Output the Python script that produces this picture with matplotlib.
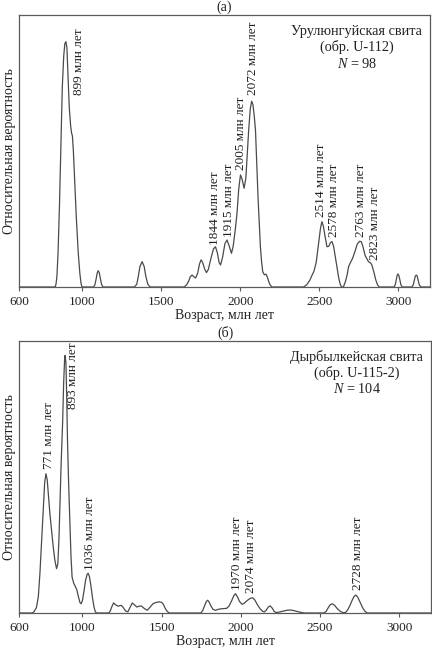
import matplotlib
matplotlib.use("Agg")
import matplotlib.pyplot as plt

plt.rcParams['font.family'] = ['Liberation Serif', 'DejaVu Serif']
plt.rcParams['mathtext.fontset'] = 'custom'
plt.rcParams['mathtext.rm'] = 'Liberation Serif'
plt.rcParams['mathtext.it'] = 'Liberation Serif:italic'

# ---- data: panel (a) ----
top_age = [600, 828, 834, 840, 847, 856, 864, 874, 883, 890, 897, 903, 910, 918, 927, 933, 938, 944, 954, 963, 975, 985, 992, 998,
           1072, 1080, 1088, 1095, 1101, 1108, 1115, 1123, 1131,
           1330, 1345, 1355, 1365, 1379, 1392, 1402, 1415, 1430,
           1645, 1660, 1672, 1684, 1695, 1706, 1717, 1730, 1742, 1752, 1762, 1775, 1786, 1798, 1812, 1830, 1843, 1855, 1866, 1875,
           1888, 1903, 1916, 1930, 1944, 1955, 1968, 1979, 1990, 2001, 2012, 2024, 2035, 2045, 2053, 2063, 2072, 2080, 2088, 2096,
           2104, 2112, 2120, 2127, 2135, 2142, 2152, 2163, 2172, 2180, 2190, 2201,
           2400, 2420, 2440, 2455, 2465, 2480, 2495, 2507, 2516, 2525, 2535, 2548, 2560, 2570, 2580, 2590, 2600, 2611, 2622, 2632, 2640,
           2652, 2665, 2676, 2685, 2697, 2710, 2725, 2740, 2755, 2765, 2775, 2790, 2811, 2825, 2832, 2845, 2857, 2868, 2879,
           2972, 2980, 2988, 2992, 2997, 3003, 3008, 3016, 3025,
           3086, 3094, 3102, 3107, 3113, 3119, 3124, 3132, 3144, 3200]
top_val = [0, 0, 0.01, 0.04, 0.125, 0.30, 0.49, 0.736, 0.85, 0.895, 0.902, 0.88, 0.78, 0.66, 0.59, 0.565, 0.555, 0.50, 0.369, 0.25, 0.124, 0.05, 0.015, 0,
           0, 0.008, 0.03, 0.052, 0.06, 0.052, 0.03, 0.008, 0,
           0, 0.01, 0.04, 0.075, 0.093, 0.075, 0.04, 0.01, 0,
           0, 0.008, 0.02, 0.038, 0.044, 0.038, 0.033, 0.05, 0.085, 0.1, 0.09, 0.065, 0.053, 0.065, 0.1, 0.14, 0.148, 0.125, 0.09, 0.081,
           0.11, 0.16, 0.173, 0.15, 0.124, 0.15, 0.21, 0.27, 0.36, 0.412, 0.395, 0.363, 0.40, 0.50, 0.577, 0.655, 0.683, 0.67, 0.63, 0.577,
           0.45, 0.332, 0.23, 0.148, 0.09, 0.056, 0.045, 0.047, 0.035, 0.02, 0.006, 0,
           0, 0.008, 0.025, 0.045, 0.056, 0.09, 0.16, 0.215, 0.24, 0.225, 0.19, 0.148, 0.15, 0.163, 0.167, 0.15, 0.115, 0.075, 0.035, 0.01, 0,
           0, 0.02, 0.045, 0.075, 0.09, 0.105, 0.13, 0.158, 0.168, 0.167, 0.15, 0.115, 0.093, 0.088, 0.081, 0.055, 0.026, 0.008, 0,
           0, 0.008, 0.03, 0.042, 0.048, 0.042, 0.03, 0.008, 0,
           0, 0.008, 0.028, 0.04, 0.044, 0.04, 0.028, 0.008, 0, 0]

top_peak_labels = ["899 млн лет", "1844 млн лет", "1915 млн лет", "2005 млн лет", "2072 млн лет",
                   "2514 млн лет", "2578 млн лет", "2763 млн лет", "2823 млн лет"]
top_label_x = [979, 1843, 1927, 2004, 2079, 2512, 2590, 2765, 2854]
top_label_y = [0.706, 0.154, 0.185, 0.43, 0.706, 0.258, 0.183, 0.185, 0.10]
top_info = ["Урулюнгуйская свита", "(обр. U-112)", "$N$ = 98"]

# ---- data: panel (б) ----
bot_age = [600, 685, 695, 710, 722, 732, 743, 753, 762, 770, 778, 786, 795, 806, 816, 826, 837, 845, 852, 858, 866, 875, 882, 888,
           891, 896, 901, 906, 913, 921, 928, 935, 945, 955, 965, 975, 985, 992, 1000, 1010, 1020, 1030, 1036, 1044, 1054, 1064,
           1074, 1082, 1090,
           1165, 1175, 1185, 1197, 1210, 1225, 1237, 1246, 1258, 1272, 1287, 1300, 1315, 1328, 1344, 1358, 1372, 1390, 1409, 1428,
           1445, 1465, 1487, 1500, 1510, 1522, 1535, 1548,
           1748, 1760, 1772, 1783, 1791, 1800, 1812, 1825, 1840, 1860, 1885, 1910, 1925, 1942, 1955, 1966, 1978, 1992, 2008, 2022,
           2040, 2060, 2074, 2088, 2105, 2122, 2138, 2148, 2160, 2173, 2185, 2198, 2210, 2221, 2240, 2260, 2290, 2315, 2340, 2365,
           2390, 2405,
           2525, 2538, 2550, 2563, 2577, 2592, 2610, 2630, 2648, 2661, 2675, 2690, 2705, 2716, 2726, 2738, 2752, 2768, 2782, 2797, 3200]
bot_val = [0, 0, 0.005, 0.02, 0.06, 0.145, 0.27, 0.39, 0.48, 0.512, 0.49, 0.43, 0.365, 0.30, 0.243, 0.195, 0.163, 0.18, 0.27, 0.39,
           0.55, 0.696, 0.85, 0.935, 0.947, 0.92, 0.80, 0.635, 0.48, 0.33, 0.21, 0.132, 0.11, 0.098, 0.085, 0.06, 0.038, 0.034, 0.045,
           0.08, 0.12, 0.142, 0.146, 0.135, 0.1, 0.055, 0.02, 0.004, 0,
           0, 0.006, 0.022, 0.037, 0.03, 0.025, 0.027, 0.028, 0.02, 0.008, 0.004, 0.02, 0.037, 0.03, 0.022, 0.025, 0.026, 0.017, 0.01,
           0.022, 0.034, 0.039, 0.041, 0.039, 0.033, 0.018, 0.006, 0,
           0, 0.01, 0.028, 0.043, 0.047, 0.04, 0.025, 0.013, 0.01, 0.014, 0.016, 0.017, 0.025, 0.045, 0.063, 0.071, 0.06, 0.042, 0.032,
           0.036, 0.046, 0.054, 0.056, 0.048, 0.03, 0.015, 0.006, 0.004, 0.01, 0.022, 0.026, 0.018, 0.006, 0.002, 0.003, 0.006, 0.01,
           0.011, 0.008, 0.004, 0.001, 0,
           0, 0.006, 0.018, 0.03, 0.034, 0.028, 0.015, 0.005, 0.001, 0.002, 0.012, 0.03, 0.05, 0.062, 0.066, 0.058, 0.04, 0.02, 0.007, 0, 0]

bot_peak_labels = ["771 млн лет", "893 млн лет", "1036 млн лет", "1970 млн лет", "2074 млн лет", "2728 млн лет"]
bot_label_x = [791, 941, 1051, 1973, 2064, 2740]
bot_label_y = [0.531, 0.751, 0.157, 0.083, 0.074, 0.083]
bot_info = ["Дырбылкейская свита", "(обр. U-115-2)", "$N$ = 104"]

xticks = [600, 1000, 1500, 2000, 2500, 3000]
xlabel = "Возраст, млн лет"
ylabel = "Относительная вероятность"
panel_titles = ["(а)", "(б)"]

W, H = 432, 648
fig = plt.figure(figsize=(W / 100, H / 100), dpi=100)
ax1 = fig.add_axes([19 / W, 1 - 287 / H, 411 / W, 272 / H])
ax2 = fig.add_axes([19 / W, 1 - 613 / H, 412 / W, 272 / H])

line_col = "#4a4a4a"
spine_col = "#5a5a5a"
txt_col = "#222222"
fs_tick = 9.5
fs_lab = 10
fs_peak = 9.5
fs_info = 10.3

panels = [
    (ax1, top_age, top_val, top_peak_labels, top_label_x, top_label_y, top_info, 0.822, [0.940, 0.881, 0.820], 1.029),
    (ax2, bot_age, bot_val, bot_peak_labels, bot_label_x, bot_label_y, bot_info, 0.820, [0.942, 0.881, 0.822], 1.029),
]
for i, (ax, ages, vals, labs, lx, ly, info, ix, iys, ty) in enumerate(panels):
    ax.plot(ages, vals, color=line_col, lw=0.9, solid_joinstyle='round')
    ax.set_xlim(600, 3200)
    ax.set_ylim(0, 1)
    ax.set_yticks([])
    ax.set_xticks(xticks)
    ax.set_xticklabels([str(t) for t in xticks], fontsize=fs_tick, color=txt_col)
    ax.tick_params(axis='x', direction='out', length=3, width=0.8, color=spine_col, pad=3.5)
    for s in ax.spines.values():
        s.set_color(spine_col)
        s.set_linewidth(0.9)
    ax.set_xlabel(xlabel, fontsize=fs_lab, labelpad=1, color=txt_col)
    ax.set_ylabel(ylabel, fontsize=fs_lab, labelpad=2, color=txt_col)
    for t, x, y in zip(labs, lx, ly):
        ax.text(x, y, t, rotation=90, ha='center', va='bottom', fontsize=fs_peak, color=txt_col)
    for t, y in zip(info, iys):
        ax.text(ix, y, t, transform=ax.transAxes, ha='center', va='center', fontsize=fs_info, color=txt_col)
    ax.text(0.5, ty, panel_titles[i], transform=ax.transAxes, ha='center', va='center', fontsize=fs_lab, color=txt_col)

fig.savefig("out.png", dpi=100)
